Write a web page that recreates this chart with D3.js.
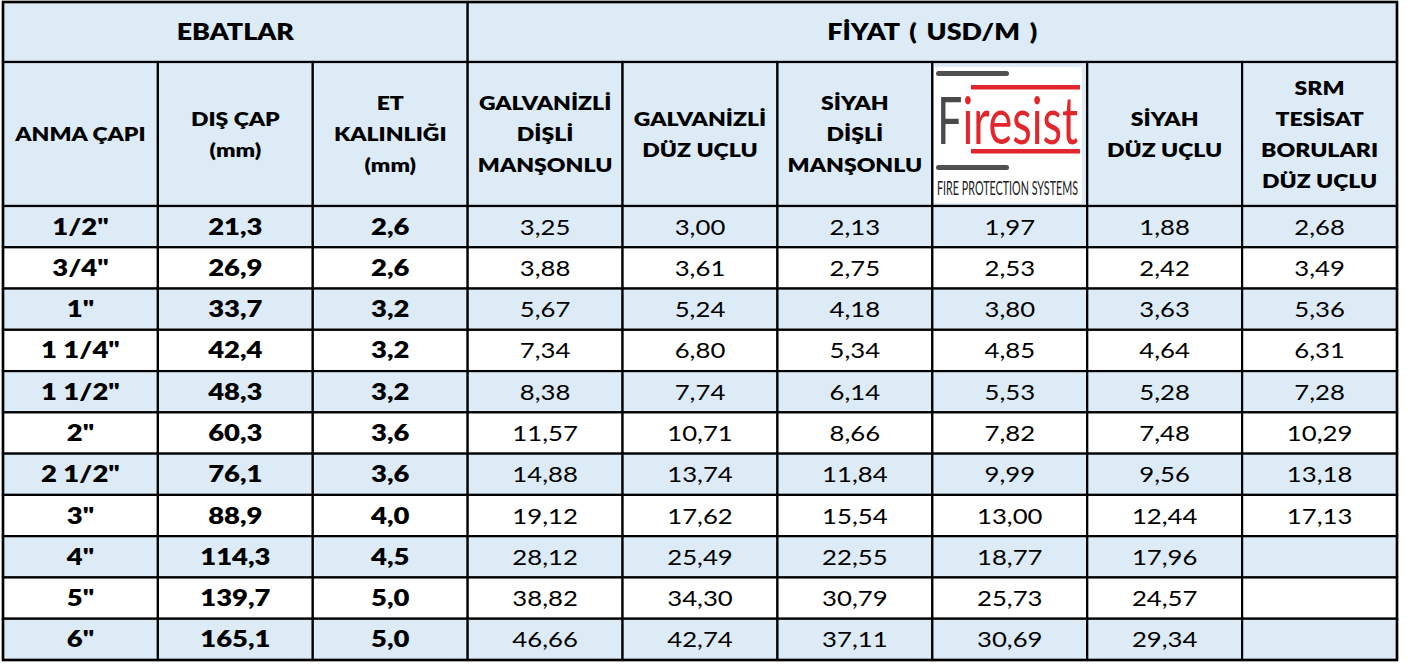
<!DOCTYPE html>
<html>
<head>
<meta charset="utf-8">
<script src="https://cdn.jsdelivr.net/npm/d3@7"></script>
<style>
  body { margin: 0; background: #fff; }
  text { font-family: Lato, "Open Sans", sans-serif; fill: #000; }
</style>
</head>
<body>
<div id="wrapper"></div>
<script>
// ---- data ----
const anmaCapi = ['1/2"', '3/4"', '1"', '1 1/4"', '1 1/2"', '2"', '2 1/2"', '3"', '4"', '5"', '6"']
const disCap = ["21,3", "26,9", "33,7", "42,4", "48,3", "60,3", "76,1", "88,9", "114,3", "139,7", "165,1"]
const etKalinligi = ["2,6", "2,6", "3,2", "3,2", "3,2", "3,6", "3,6", "4,0", "4,5", "5,0", "5,0"]

const galvDisli = [3.25, 3.88, 5.67, 7.34, 8.38, 11.57, 14.88, 19.12, 28.12, 38.82, 46.66]
const galvDuz = [3.00, 3.61, 5.24, 6.80, 7.74, 10.71, 13.74, 17.62, 25.49, 34.30, 42.74]
const siyahDisli = [2.13, 2.75, 4.18, 5.34, 6.14, 8.66, 11.84, 15.54, 22.55, 30.79, 37.11]
const firesist = [1.97, 2.53, 3.80, 4.85, 5.53, 7.82, 9.99, 13.00, 18.77, 25.73, 30.69]
const siyahDuz = [1.88, 2.42, 3.63, 4.64, 5.28, 7.48, 9.56, 12.44, 17.96, 24.57, 29.34]
const srmTesisat = [2.68, 3.49, 5.36, 6.31, 7.28, 10.29, 13.18, 17.13, null, null, null]

const groupHeaders = [
  {label: "EBATLAR", from: 0, to: 2},
  {label: "FİYAT ( USD/M )", from: 3, to: 8},
]
const columnHeaders = [
  ["ANMA ÇAPI"],
  ["DIŞ ÇAP", "(mm)"],
  ["ET", "KALINLIĞI", "(mm)"],
  ["GALVANİZLİ", "DİŞLİ", "MANŞONLU"],
  ["GALVANİZLİ", "DÜZ UÇLU"],
  ["SİYAH", "DİŞLİ", "MANŞONLU"],
  null, // logo
  ["SİYAH", "DÜZ UÇLU"],
  ["SRM", "TESİSAT", "BORULARI", "DÜZ UÇLU"],
]

const columns = [anmaCapi, disCap, etKalinligi, galvDisli, galvDuz, siyahDisli, firesist, siyahDuz, srmTesisat]

// ---- dimensions ----
const width = 1411, height = 664
const left = 3, right = 1397
const top0 = 2, top1 = 62, top2 = 206, bottom = 660
const blue = "#DDEBF7"
const lineGap = 31

const locale = d3.formatLocale({decimal: ",", thousands: ".", grouping: [3], currency: ["", ""]})
const fmt = locale.format(".2f")

const svg = d3.select("#wrapper").append("svg")
  .attr("width", width)
  .attr("height", height)

const xScale = d3.scaleBand()
  .domain(d3.range(columns.length))
  .range([left, right])

const yScale = d3.scaleBand()
  .domain(d3.range(anmaCapi.length))
  .range([top2, bottom])

const cellBorder = sel => sel.attr("stroke", "#000").attr("stroke-width", 2.2)

// fonts are narrower than the original, so text is stretched sideways
function putText(g, str, cx, baseline, size, weight, sx) {
  return g.append("text")
    .attr("transform", `translate(${cx},${baseline}) scale(${sx},1)`)
    .attr("text-anchor", "middle")
    .attr("font-size", size)
    .attr("font-weight", weight)
    .text(str)
}

// group header row
const g1 = svg.append("g")
groupHeaders.forEach(h => {
  const x0 = xScale(h.from), x1 = xScale(h.to) + xScale.bandwidth()
  g1.append("rect")
    .attr("x", x0).attr("y", top0)
    .attr("width", x1 - x0).attr("height", top1 - top0)
    .attr("fill", blue)
    .call(cellBorder)
  putText(g1, h.label, (x0 + x1) / 2, (top0 + top1) / 2 + 8, 22, 800, 1.22)
    .attr("word-spacing", 3)
})

// column header row
const g2 = svg.append("g")
columnHeaders.forEach((lines, i) => {
  const x0 = xScale(i)
  g2.append("rect")
    .attr("x", x0).attr("y", top1)
    .attr("width", xScale.bandwidth()).attr("height", top2 - top1)
    .attr("fill", blue)
    .call(cellBorder)
  if (!lines) return
  const cy = (top1 + top2) / 2
  lines.forEach((ln, k) => {
    const base = cy + (k - (lines.length - 1) / 2) * lineGap + 7
    putText(g2, ln, x0 + xScale.bandwidth() / 2, base, 19.5, 800, 1.18)
  })
})

// logo cell
const logo = svg.append("g")
logo.append("rect").attr("x", 934).attr("y", 67).attr("width", 148).attr("height", 136).attr("fill", "#fff")
logo.append("rect").attr("x", 936).attr("y", 71).attr("width", 73).attr("height", 5).attr("rx", 2.5).attr("fill", "#505050")
logo.append("rect").attr("x", 971).attr("y", 85).attr("width", 109).attr("height", 4.5).attr("fill", "#e3262b")
const brand = logo.append("text")
  .attr("transform", "translate(937,144) scale(1,1.75)")
  .attr("font-size", 38)
  .attr("textLength", 141).attr("lengthAdjust", "spacingAndGlyphs")
brand.append("tspan").style("fill", "#4a4a4a").text("F")
brand.append("tspan").style("fill", "#e3262b").text("iresist")
logo.append("rect").attr("x", 971).attr("y", 149).attr("width", 109).attr("height", 4.5).attr("fill", "#e3262b")
logo.append("rect").attr("x", 936).attr("y", 165).attr("width", 73).attr("height", 5).attr("rx", 2.5).attr("fill", "#505050")
logo.append("text").attr("x", 937).attr("y", 195)
  .attr("font-size", 19)
  .attr("textLength", 141).attr("lengthAdjust", "spacingAndGlyphs")
  .style("fill", "#222").text("FIRE PROTECTION SYSTEMS")

// body rows
const body = svg.append("g")
anmaCapi.forEach((_, r) => {
  const y0 = yScale(r)
  columns.forEach((col, c) => {
    const x0 = xScale(c)
    body.append("rect")
      .attr("x", x0).attr("y", y0)
      .attr("width", xScale.bandwidth()).attr("height", yScale.bandwidth())
      .attr("fill", r % 2 === 0 ? blue : "#fff")
      .call(cellBorder)
    const v = col[r]
    if (v == null) return
    const str = typeof v === "number" ? fmt(v) : v
    const bold = c < 3
    putText(body, str, x0 + xScale.bandwidth() / 2, y0 + yScale.bandwidth() / 2 + 8,
      bold ? 22.5 : 22, bold ? 800 : 400, bold ? 1.22 : 1.17)
  })
})

// outer frame
svg.append("rect")
  .attr("x", left).attr("y", top0)
  .attr("width", right - left).attr("height", bottom - top0)
  .attr("fill", "none")
  .attr("stroke", "#000").attr("stroke-width", 2.5)
</script>
</body>
</html>
